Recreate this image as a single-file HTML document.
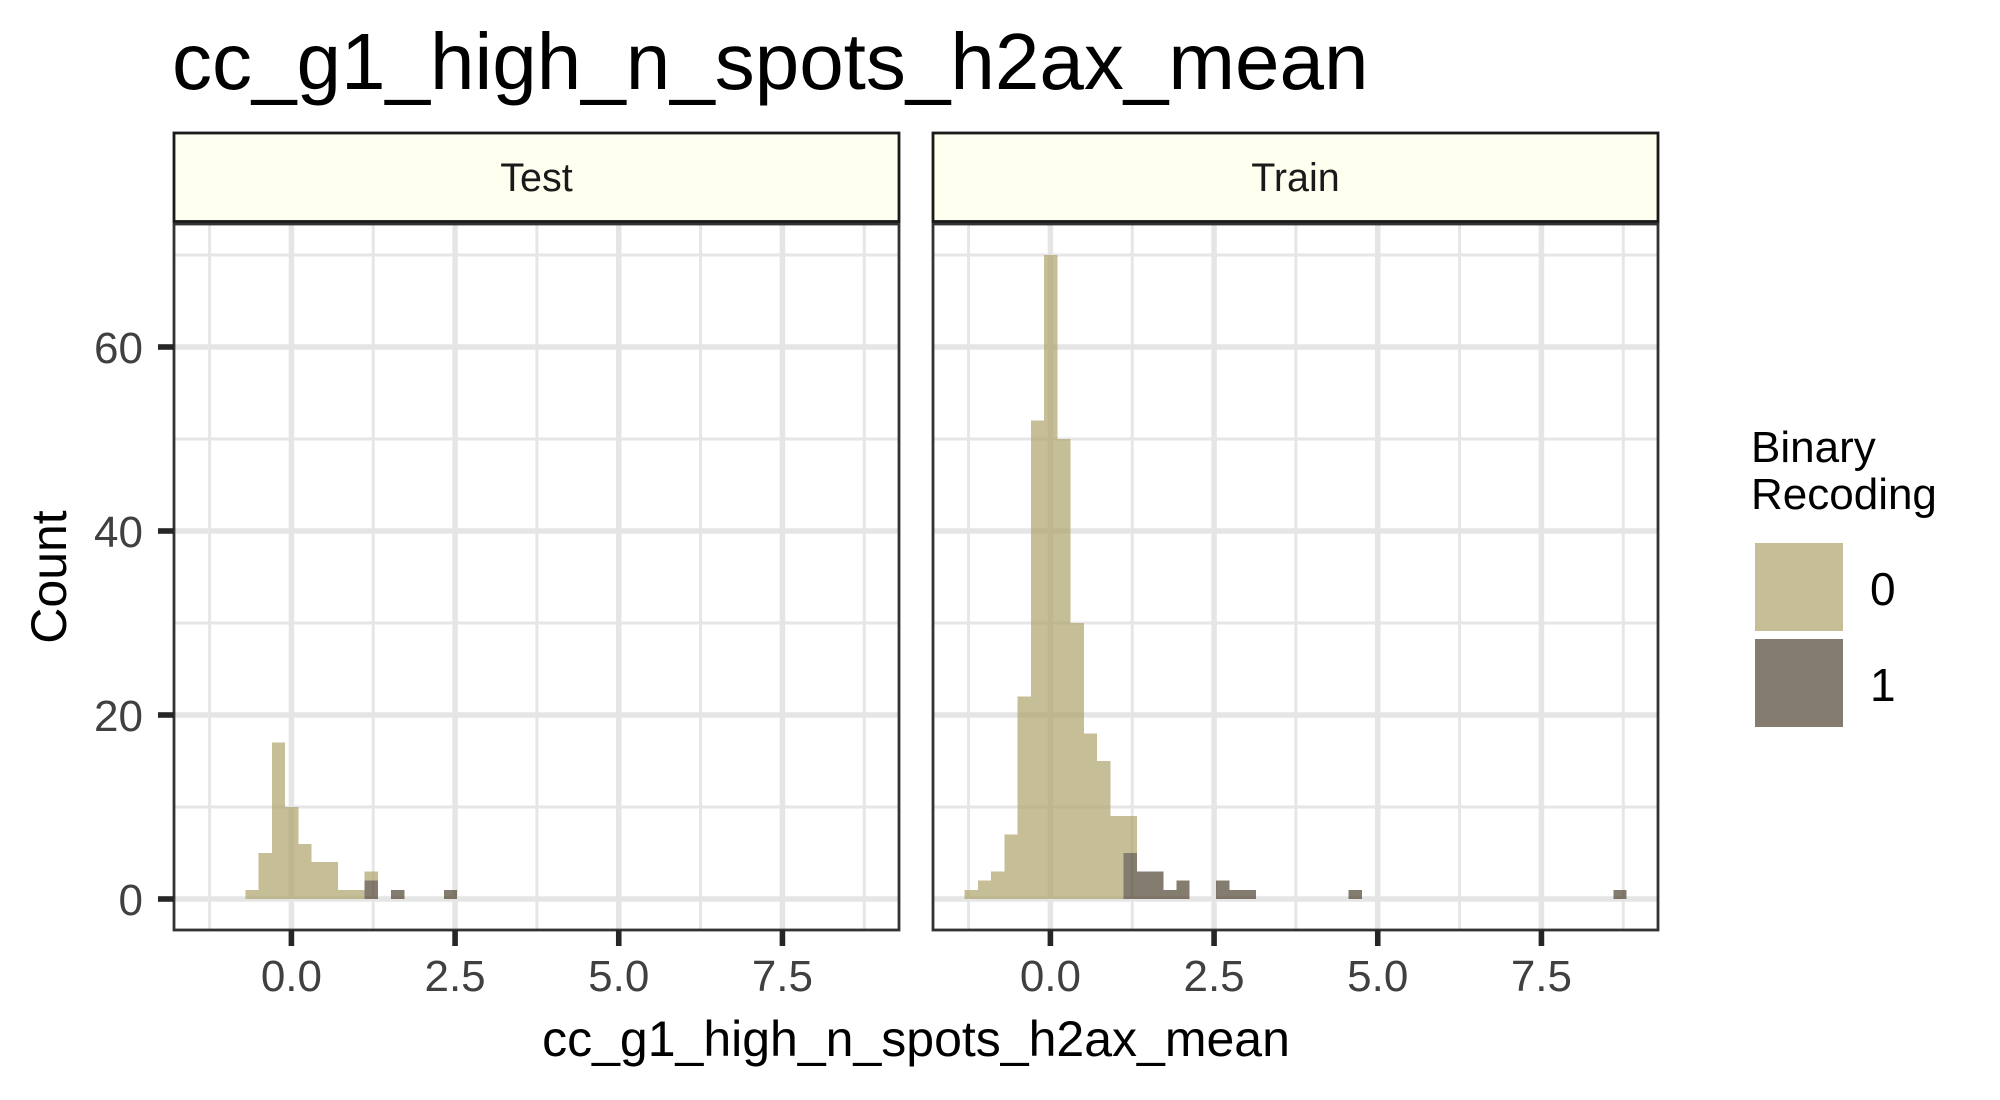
<!DOCTYPE html>
<html lang="en">
<head>
<meta charset="utf-8">
<title>cc_g1_high_n_spots_h2ax_mean</title>
<style>
  html, body { margin: 0; padding: 0; background: #ffffff; }
  body { width: 2000px; height: 1100px; overflow: hidden; }
  svg { display: block; font-family: "Liberation Sans", Arial, sans-serif; }
</style>
</head>
<body>
<svg id="chart" xmlns="http://www.w3.org/2000/svg" width="2000" height="1100" viewBox="0 0 2000 1100">
  <rect x="0" y="0" width="2000" height="1100" fill="#ffffff"/>
  <text x="172" y="89" font-size="80" fill="#000000">cc_g1_high_n_spots_h2ax_mean</text>
  <text x="916" y="1056" font-size="50" text-anchor="middle" fill="#000000">cc_g1_high_n_spots_h2ax_mean</text>
  <text transform="translate(66,577) rotate(-90)" font-size="50" text-anchor="middle" fill="#000000">Count</text>
  <g id="panels"></g>
  <g>
    <text x="1751" y="462" font-size="44" fill="#000000">Binary</text>
    <text x="1751" y="509" font-size="44" fill="#000000">Recoding</text>
    <rect x="1755" y="543" width="88" height="88" fill="#c5be96"/>
    <rect x="1755" y="639" width="88" height="88" fill="#857c70"/>
    <text x="1870" y="605" font-size="46" fill="#000000">0</text>
    <text x="1870" y="701" font-size="46" fill="#000000">1</text>
  </g>
</svg>
<script>
// Histogram data: counts per bin, bin 0 starts at binStart, each binWidth wide (data units)
const binStart = -1.309;
const binWidth = 0.2022;
const facets = ["Test", "Train"];
const testClass0 = [0,0,0,1,5,17,10,6,4,4,1,1,1,0,0,0,0,0,0,0,0,0,0,0,0,0,0,0,0,0,0,0,0,0,0,0,0,0,0,0,0,0,0,0,0,0,0,0,0,0];
const testClass1 = [0,0,0,0,0,0,0,0,0,0,0,0,2,0,1,0,0,0,1,0,0,0,0,0,0,0,0,0,0,0,0,0,0,0,0,0,0,0,0,0,0,0,0,0,0,0,0,0,0,0];
const trainClass0 = [1,2,3,7,22,52,70,50,30,18,15,9,4,0,0,0,0,0,0,0,0,0,0,0,0,0,0,0,0,0,0,0,0,0,0,0,0,0,0,0,0,0,0,0,0,0,0,0,0,0];
const trainClass1 = [0,0,0,0,0,0,0,0,0,0,0,0,5,3,3,1,2,0,0,2,1,1,0,0,0,0,0,0,0,1,0,0,0,0,0,0,0,0,0,0,0,0,0,0,0,0,0,0,0,1];
const xMajorTicks = [0, 2.5, 5, 7.5];
const xMinorTicks = [-1.25, 1.25, 3.75, 6.25, 8.75];
const yMajorTicks = [0, 20, 40, 60];
const yMinorTicks = [10, 30, 50, 70];

const SVG_NS = "http://www.w3.org/2000/svg";
const root = document.getElementById("panels");

const panelLefts = [174, 933];
const panelWidth = 725;
const panelTop = 224;
const panelBottom = 930;
const stripTop = 133;
const xPerUnit = 65.47;
const yPerCount = 9.2;
const yZero = 899;

function yScale(v) { return yZero - v * yPerCount; }
function xScale(v, panelIndex) { return panelLefts[panelIndex] + 117.4 + v * xPerUnit; }

function make(tag, attrs, parent) {
  const el = document.createElementNS(SVG_NS, tag);
  for (const k in attrs) el.setAttribute(k, attrs[k]);
  parent.appendChild(el);
  return el;
}

function tickLabel(v) { return v.toFixed(1); }

const classValues = [[testClass0, testClass1], [trainClass0, trainClass1]];

facets.forEach(function (facet, p) {
  const left = panelLefts[p];
  const right = left + panelWidth;
  const g = make("g", {}, root);
  
  

  // minor gridlines
  yMinorTicks.forEach(function (v) {
    const l = make("line", { x1: left, x2: right, y1: yScale(v), y2: yScale(v), stroke: "#e6e6e6", "stroke-width": 3 }, g);
    
    
  });
  xMinorTicks.forEach(function (v) {
    const l = make("line", { x1: xScale(v, p), x2: xScale(v, p), y1: panelTop, y2: panelBottom, stroke: "#e6e6e6", "stroke-width": 3 }, g);
    
    
  });
  // major gridlines
  yMajorTicks.forEach(function (v) {
    const l = make("line", { x1: left, x2: right, y1: yScale(v), y2: yScale(v), stroke: "#e5e5e5", "stroke-width": 5.5 }, g);
    
    
  });
  xMajorTicks.forEach(function (v) {
    const l = make("line", { x1: xScale(v, p), x2: xScale(v, p), y1: panelTop, y2: panelBottom, stroke: "#e5e5e5", "stroke-width": 5.5 }, g);
    
    
  });

  // stacked histogram bars
  const c0 = classValues[p][0];
  const c1 = classValues[p][1];
  c0.forEach(function (_, i) {
    const x0 = xScale(binStart + i * binWidth, p);
    const x1 = xScale(binStart + (i + 1) * binWidth, p);
    if (c1[i] > 0) {
      const r = make("rect", { x: x0, y: yScale(c1[i]), width: x1 - x0, height: yScale(0) - yScale(c1[i]), fill: "#514433", "fill-opacity": 0.7, "shape-rendering": "crispEdges" }, g);
      
      
    }
    if (c0[i] > 0) {
      const r = make("rect", { x: x0, y: yScale(c1[i] + c0[i]), width: x1 - x0, height: yScale(c1[i]) - yScale(c1[i] + c0[i]), fill: "#aca269", "fill-opacity": 0.7, "shape-rendering": "crispEdges" }, g);
      
      
    }
  });

  // panel border
  const border = make("rect", { x: left, y: panelTop, width: panelWidth, height: panelBottom - panelTop, fill: "none", stroke: "#333333", "stroke-width": 2.8 }, g);
  
  

  // strip
  const strip = make("rect", { x: left, y: stripTop, width: panelWidth, height: 88.5, fill: "#fffff0", stroke: "#1a1a1a", "stroke-width": 2.8 }, g);
  
  
  const st = make("text", { x: left + panelWidth / 2, y: 191, "font-size": 39.5, "text-anchor": "middle", fill: "#1a1a1a" }, g);
  
  
  st.textContent = facet;

  // x ticks + labels
  xMajorTicks.forEach(function (v) {
    const t = make("line", { x1: xScale(v, p), x2: xScale(v, p), y1: panelBottom, y2: panelBottom + 16, stroke: "#262626", "stroke-width": 5.6 }, g);
    
    
    const lb = make("text", { x: xScale(v, p), y: 991, "font-size": 44, "text-anchor": "middle", fill: "#404040" }, g);
    
    
    lb.textContent = tickLabel(v);
  });

  // y ticks + labels on first panel only
  if (p === 0) {
    yMajorTicks.forEach(function (v) {
      const t = make("line", { x1: left - 16, x2: left, y1: yScale(v), y2: yScale(v), stroke: "#262626", "stroke-width": 5.6 }, g);
      
      
      const lb = make("text", { x: left - 31, y: yScale(v) + 16, "font-size": 44, "text-anchor": "end", fill: "#404040" }, g);
      
      
      lb.textContent = String(v);
    });
  }
});
</script>
</body>
</html>
